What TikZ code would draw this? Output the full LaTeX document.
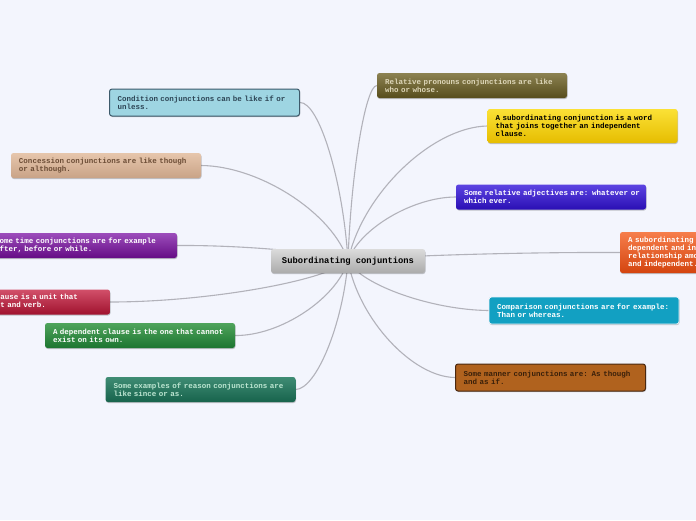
\documentclass[tikz,border=0pt]{standalone}
\usepackage{fontspec}
\newfontfamily\boxfont{Liberation Mono}
\usetikzlibrary{shadows,backgrounds}
\pgfdeclarelayer{canvaslayer}
\pgfsetlayers{canvaslayer,background,main}
\definecolor{canvas}{HTML}{F3F5FD}
\definecolor{linkcol}{HTML}{B2B2BA}
\definecolor{condFill}{HTML}{9ED5E2}\definecolor{condDraw}{HTML}{3D5A6B}\definecolor{condText}{HTML}{2D4555}
\definecolor{concTop}{HTML}{E6C6AC}\definecolor{concBot}{HTML}{C9A387}\definecolor{concText}{HTML}{6B4C35}
\definecolor{timeTop}{HTML}{9C4DBB}\definecolor{timeBot}{HTML}{650C85}
\definecolor{indTop}{HTML}{D2506A}\definecolor{indBot}{HTML}{A0122E}
\definecolor{depTop}{HTML}{4FA45C}\definecolor{depBot}{HTML}{1C7530}
\definecolor{reaTop}{HTML}{3F8C74}\definecolor{reaBot}{HTML}{17634C}\definecolor{reaText}{HTML}{BDE6D2}
\definecolor{relTop}{HTML}{8C8252}\definecolor{relBot}{HTML}{574D1C}\definecolor{relText}{HTML}{DDD6B8}
\definecolor{wordTop}{HTML}{FBE136}\definecolor{wordBot}{HTML}{E6BD00}
\definecolor{adjTop}{HTML}{5C44E2}\definecolor{adjBot}{HTML}{2A0FB4}
\definecolor{relsTop}{HTML}{F67E4C}\definecolor{relsBot}{HTML}{D4440E}
\definecolor{compFill}{HTML}{12A0C2}\definecolor{compDraw}{HTML}{E8F2F8}
\definecolor{manFill}{HTML}{B0621E}\definecolor{manDraw}{HTML}{4A2810}\definecolor{manText}{HTML}{3A200A}
\newcommand\boxtextfont{\boxfont\bfseries\fontsize{7.5}{8}\selectfont\hbadness=10000\hfuzz=20pt\relax}
\tikzset{
  topic/.style={rectangle, rounded corners=2.5pt, inner xsep=8pt, inner ysep=2pt,
    text width=174pt, align=left, minimum height=25pt,
    font=\boxtextfont,
    drop shadow={shadow xshift=0.5pt, shadow yshift=-1pt, opacity=0.22, fill=black}},
  link/.style={draw=linkcol, line width=1.1pt},
}
\begin{document}
\begin{tikzpicture}[x=1pt,y=-1pt]
\useasboundingbox (0,0) rectangle (696,520);
\clip (0,0) rectangle (696,520);
\begin{pgfonlayer}{canvaslayer}
\fill[canvas] (0,0) rectangle (696,520);
\end{pgfonlayer}
\coordinate (hub) at (348,261);
% centre
\node[rectangle, rounded corners=2.5pt, minimum width=154pt, minimum height=24pt,
  top color=black!14, bottom color=black!33, text=black,
  font=\boxfont\bfseries\fontsize{8.8}{10}\selectfont,
  drop shadow={shadow xshift=0.5pt, shadow yshift=-1pt, opacity=0.22, fill=black}]
  (center) at (348,261) {Subordinating conjuntions};
% left side
\node[topic, fill=condFill, draw=condDraw, line width=1pt, text=condText, minimum height=27pt]
  (cond) at (204.5,102.5) {\mbox{Condition conjunctions can be like if or}\\unless.};
\node[topic, top color=concTop, bottom color=concBot, text=concText]
  (conc) at (106,165.5) {\mbox{Concession conjunctions are like though}\\or although.};
\node[topic, top color=timeTop, bottom color=timeBot, text=white]
  (time) at (82,245.5) {\mbox{Some time conjunctions are for example}\\after, before or while.};
\node[topic, top color=indTop, bottom color=indBot, text=white]
  (indep) at (15,302) {\mbox{An independent clause is a unit that}\\contains a subject and verb.};
\node[topic, top color=depTop, bottom color=depBot, text=white]
  (dep) at (140,335.5) {\mbox{A dependent clause is the one that cannot}\\exist on its own.};
\node[topic, top color=reaTop, bottom color=reaBot, text=reaText]
  (reason) at (200.5,389.5) {\mbox{Some examples of reason conjunctions are}\\like since or as.};
% right side
\node[topic, top color=relTop, bottom color=relBot, text=relText]
  (rel) at (472,85.5) {\mbox{Relative pronouns conjunctions are like}\\who or whose.};
\node[topic, top color=wordTop, bottom color=wordBot, text=black, minimum height=34pt]
  (word) at (582.5,126) {\mbox{A subordinating conjunction is a word}\\\mbox{that joins together an independent}\\clause.};
\node[topic, top color=adjTop, bottom color=adjBot, text=white]
  (adj) at (551,197) {\mbox{Some relative adjectives are: whatever or}\\which ever.};
\node[topic, top color=relsTop, bottom color=relsBot, text=white, minimum height=41pt]
  (rels) at (715,252.5) {\mbox{A subordinating conjunction creates a}\\dependent and independent\\relationship among dependent\\and independent.};
\node[topic, fill=compFill, draw=compDraw, line width=0.8pt, text=white, minimum height=27pt]
  (comp) at (584,310.5) {\mbox{Comparison conjunctions are for example:}\\Than or whereas.};
\node[topic, fill=manFill, draw=manDraw, line width=1pt, text=manText, minimum height=27pt]
  (manner) at (550.5,377.5) {\mbox{Some manner conjunctions are: As though}\\and as if.};
% connectors
\begin{scope}[on background layer]
\draw[link] (hub) .. controls (343.2,181.5) and (319.2,102) .. (cond.east);
\draw[link] (hub) .. controls (333.3,213.5) and (259.8,166) .. (conc.east);
\draw[link] (hub) .. controls (330.9,253) and (245.4,245) .. (time.east);
\draw[link] (hub) .. controls (324.2,281.5) and (205.2,302) .. (indep.east);
\draw[link] (hub) .. controls (336.7,298.5) and (280.2,336) .. (dep.east);
\draw[link] (hub) .. controls (342.7,325) and (316.2,389) .. (reason.east);
\draw[link] (hub) .. controls (350.9,173.5) and (365.4,86) .. (rel.west);
\draw[link] (hub) .. controls (362,194) and (432,127) .. (word.west);
\draw[link] (hub) .. controls (358.8,229) and (412.8,197) .. (adj.west);
\draw[link] (hub) .. controls (375.2,256.5) and (511.2,252) .. (rels.west);
\draw[link] (hub) .. controls (362.1,285.5) and (432.6,310) .. (comp.west);
\draw[link] (hub) .. controls (358.7,319) and (412.2,377) .. (manner.west);
\end{scope}
\end{tikzpicture}
\end{document}
